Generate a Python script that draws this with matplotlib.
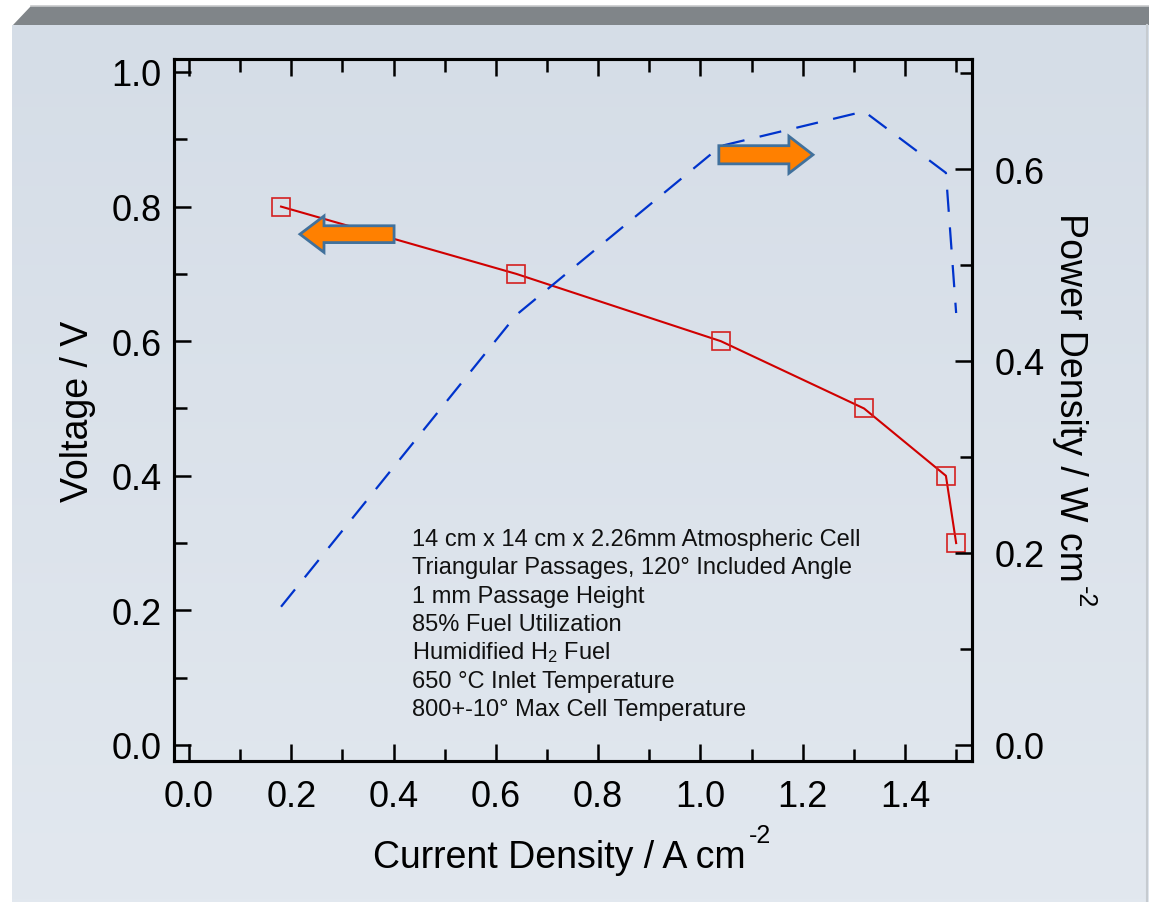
import matplotlib
matplotlib.use('Agg')
import numpy as np
import matplotlib.pyplot as plt
from matplotlib.patches import Polygon, FancyArrow
from matplotlib.ticker import MultipleLocator, FormatStrFormatter

plt.rcParams['font.family'] = ['Liberation Sans', 'DejaVu Sans']
plt.rcParams['mathtext.fontset'] = 'custom'
plt.rcParams['mathtext.rm'] = 'Liberation Sans'
plt.rcParams['mathtext.it'] = 'Liberation Sans:italic'

# data
current = [0.18, 0.64, 1.04, 1.32, 1.48, 1.50]
voltage = [0.80, 0.70, 0.60, 0.50, 0.40, 0.30]
power = [0.144, 0.448, 0.624, 0.660, 0.596, 0.450]
notes = ['14 cm x 14 cm x 2.26mm Atmospheric Cell',
         'Triangular Passages, 120\u00b0 Included Angle',
         '1 mm Passage Height',
         '85% Fuel Utilization',
         'Humidified H$_2$ Fuel',
         '650 \u00b0C Inlet Temperature',
         '800+-10\u00b0 Max Cell Temperature']

W, H = 1149, 903
RED = '#D00000'
BLUE = '#0033CC'
ORANGE = '#FF8000'
EDGE = '#41719C'

fig = plt.figure(figsize=(W / 100, H / 100), dpi=100)

# background panel, pixel coords
bg = fig.add_axes([0, 0, 1, 1], zorder=0)
bg.set_xlim(0, W)
bg.set_ylim(H, 0)
bg.axis('off')
grad = np.linspace(0, 1, 256)[:, None]
cmap = matplotlib.colors.LinearSegmentedColormap.from_list('bgg', ['#D5DDE7', '#E2E8EF'])
bg.imshow(grad, cmap=cmap, extent=(12, W, H, 26), aspect='auto', zorder=0)
bg.add_patch(Polygon([(13, 26), (31, 7), (W, 7), (W, 26)], closed=True,
                     facecolor='#808589', edgecolor='none', zorder=1))
bg.plot([31, W], [6.5, 6.5], color='#C8CACC', lw=1.2, zorder=1)
bg.plot([W - 2, W - 2], [26, H], color='#C6CBD0', lw=1.5, zorder=1)

L, R, T, B = 174, 972, 60, 762
ax = fig.add_axes([L / W, 1 - B / H, (R - L) / W, (B - T) / H], zorder=2)
ax.patch.set_visible(False)
ax2 = ax.twinx()
ax2.patch.set_visible(False)

ax.plot(current, voltage, color=RED, lw=1.5, zorder=3)
ax.plot(current, voltage, ls='none', marker='s', ms=13.5, mfc='none',
        mec='#D42020', mew=1.2, zorder=4)
ax2.plot(current, power, color=BLUE, lw=1.6, ls=(0, (10, 7)), zorder=3)

ax.set_xlim(-0.0293, 1.531)
ax.set_ylim(-0.0238, 1.0193)

for a in (ax, ax2):
    for s in a.spines.values():
        s.set_linewidth(2.2)

ax.xaxis.set_major_locator(MultipleLocator(0.2))
ax.xaxis.set_minor_locator(MultipleLocator(0.1))
ax.yaxis.set_major_locator(MultipleLocator(0.2))
ax.yaxis.set_minor_locator(MultipleLocator(0.1))
ax2.yaxis.set_major_locator(MultipleLocator(0.2))
ax2.yaxis.set_minor_locator(MultipleLocator(0.1))
ax.xaxis.set_major_formatter(FormatStrFormatter('%.1f'))
ax.yaxis.set_major_formatter(FormatStrFormatter('%.1f'))
ax2.yaxis.set_major_formatter(FormatStrFormatter('%.1f'))

ax.tick_params(axis='x', which='both', direction='in', top=True, bottom=True,
               labelsize=26, pad=13)
ax.tick_params(axis='y', which='both', direction='in', left=True, right=False,
               labelsize=26, pad=9)
ax.tick_params(which='major', length=12, width=1.8)
ax.tick_params(which='minor', length=9, width=1.8)
ax2.tick_params(axis='y', which='both', direction='in', labelsize=26, pad=16)
ax2.tick_params(which='major', length=12, width=1.8)
ax2.tick_params(which='minor', length=9, width=1.8)

# direction arrows in voltage-axis data coords, drawn on top
ax2.add_patch(FancyArrow(0.401, 0.759, -0.184, 0, width=0.025, head_width=0.054,
                         head_length=0.047, length_includes_head=True,
                         facecolor=ORANGE, edgecolor=EDGE, lw=2,
                         transform=ax.transData, zorder=6))
ax2.add_patch(FancyArrow(1.036, 0.877, 0.184, 0, width=0.027, head_width=0.055,
                         head_length=0.047, length_includes_head=True,
                         facecolor=ORANGE, edgecolor=EDGE, lw=2,
                         transform=ax.transData, zorder=6))
ax2.set_ylim(-0.0167, 0.7146)

for k, t in enumerate(notes):
    fig.text(412 / W, 1 - (546 + k * 28.33) / H, t, fontsize=17, ha='left',
             va='baseline', color='#111111')

# axis titles with a plain hyphen superscript
xl = fig.text(373 / W, 1 - 868 / H, 'Current Density / A cm', fontsize=27,
              ha='left', va='baseline')
fig.text(78 / W, 1 - 411 / H, 'Voltage / V', fontsize=27, rotation=90,
         ha='center', va='center')
yl = fig.text(1070 / W, 1 - 213 / H, 'Power Density / W cm', fontsize=27,
              rotation=-90, ha='center', va='top')

fig.canvas.draw()
rend = fig.canvas.get_renderer()
bx = xl.get_window_extent(rend)
fig.text((bx.x1 + 3) / W, (H - 843) / H, '-2', fontsize=18, ha='left', va='baseline')
by = yl.get_window_extent(rend)
fig.text(1085 / W, (by.y0 - 4) / H, '-2', fontsize=18, rotation=-90,
         ha='center', va='top')

fig.savefig('out.png', dpi=100)
